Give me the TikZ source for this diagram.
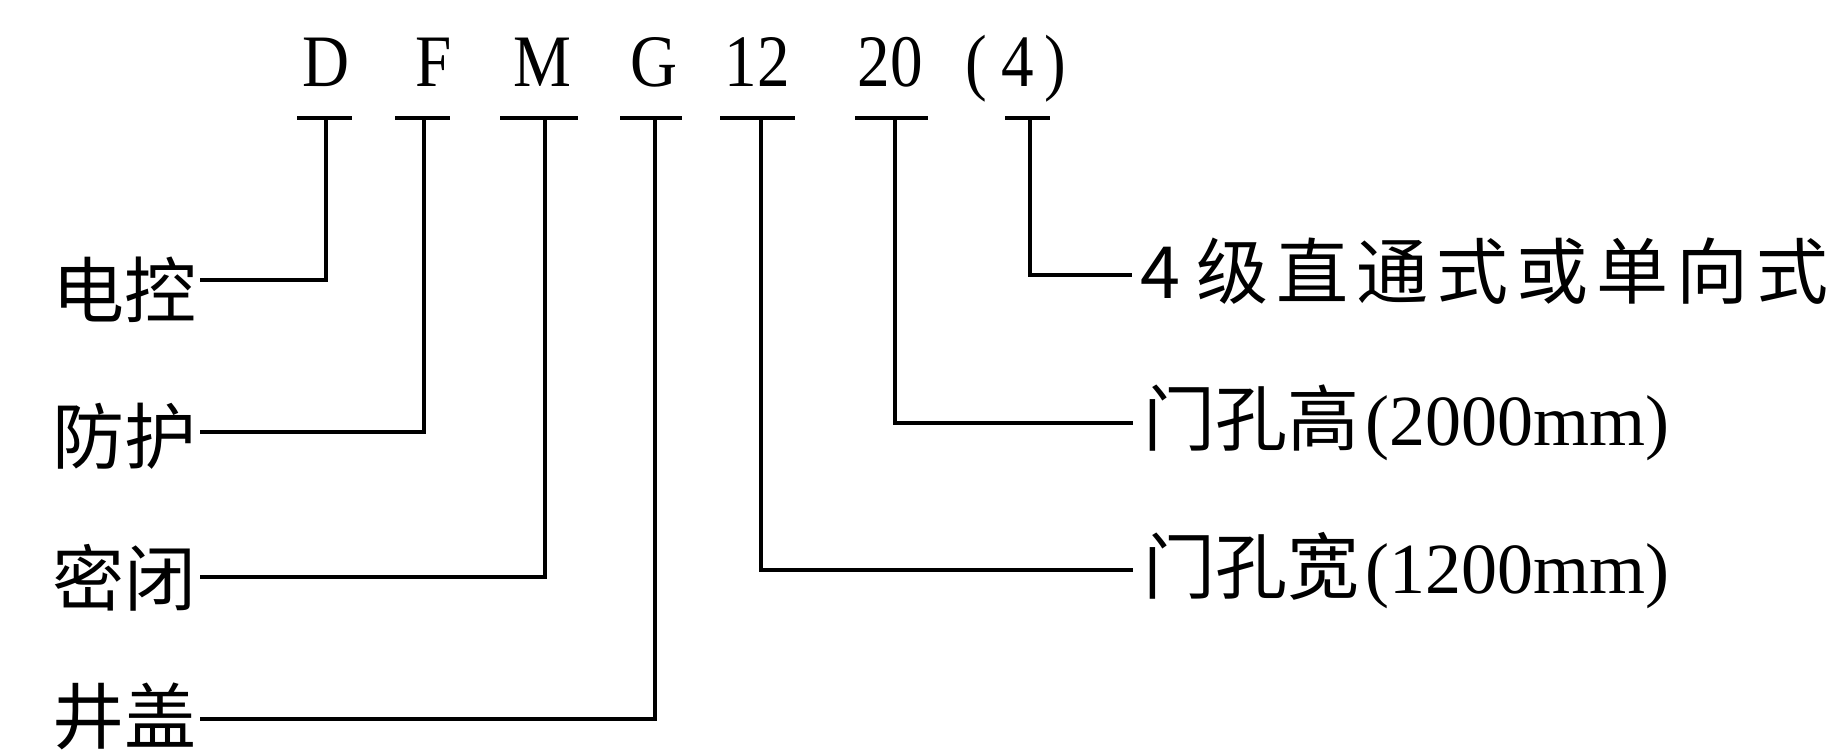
\documentclass[tikz,border=0pt]{standalone}
\usepackage{fontspec}
\setmainfont{Liberation Serif}
\newfontfamily\cjk{Noto Sans CJK SC}
\newcommand\mylat{\rmfamily\fontsize{72}{72}\selectfont}
\newcommand\mytk{\kern8pt}
\begin{document}
\begin{tikzpicture}[x=1pt,y=-1pt,
  code/.style={font=\fontsize{74}{74}\selectfont, inner sep=0, anchor=base, xscale=0.88},
  cn/.style={font=\cjk\fontsize{72}{72}\selectfont, inner sep=0, text height=60pt, text depth=5pt},
  wire/.style={line width=4.5pt, line join=miter}
]
\useasboundingbox (0,0) rectangle (1831,751);
\fill[white] (0,0) rectangle (1831,751);

% code letters
\node[code] (cD) at (326,87) {D};
\node[code] (cF) at (434,87) {F};
\node[code] (cM) at (542,87) {M};
\node[code] (cG) at (654,87) {G};
\node[code] (c12) at (757,87) {12};
\node[code] (c20) at (890,87) {20};
\node[code] (c4) at (1016,87) {(\kern16pt 4\kern12pt)};

% T-bar tops
\coordinate (tD) at (326,118);
\coordinate (tF) at (424,118);
\coordinate (tM) at (545,118);
\coordinate (tG) at (655,118);
\coordinate (t12) at (761,118);
\coordinate (t20) at (895,118);
\coordinate (t4) at (1030,118);

\draw[wire] ([xshift=-29pt]tD) -- ([xshift=26pt]tD);
\draw[wire] ([xshift=-29pt]tF) -- ([xshift=26pt]tF);
\draw[wire] ([xshift=-45pt]tM) -- ([xshift=33pt]tM);
\draw[wire] ([xshift=-35pt]tG) -- ([xshift=27pt]tG);
\draw[wire] ([xshift=-41pt]t12) -- ([xshift=34pt]t12);
\draw[wire] ([xshift=-40pt]t20) -- ([xshift=33pt]t20);
\draw[wire] ([xshift=-25pt]t4) -- ([xshift=20pt]t4);

% left labels
\node[cn, anchor=east] (dk) at (197,290) {电控};
\node[cn, anchor=east] (fh) at (197,436) {防护};
\node[cn, anchor=east] (mb) at (197,578) {密闭};
\node[cn, anchor=east] (jg) at (197,716) {井盖};

% right labels
\node[cn, anchor=west] (r4) at (1140,271) {4 级\mytk 直\mytk 通\mytk 式\mytk 或\mytk 单\mytk 向\mytk 式};
\node[cn, anchor=west] (rh) at (1143,418) {门孔高{\mylat\kern6pt(2000mm)}};
\node[cn, anchor=west] (rw) at (1143,566) {门孔宽{\mylat\kern6pt(1200mm)}};

% connectors
\draw[wire] (tD) |- ([xshift=3pt,yshift=10pt]dk.east);
\draw[wire] (tF) |- ([xshift=3pt,yshift=4pt]fh.east);
\draw[wire] (tM) |- ([xshift=3pt,yshift=1pt]mb.east);
\draw[wire] (tG) |- ([xshift=3pt,yshift=-3pt]jg.east);
\draw[wire] (t12) |- ([xshift=-10pt,yshift=-4pt]rw.west);
\draw[wire] (t20) |- ([xshift=-10pt,yshift=-5pt]rh.west);
\draw[wire] (t4) |- ([xshift=-8pt,yshift=-4pt]r4.west);
\end{tikzpicture}
\end{document}
